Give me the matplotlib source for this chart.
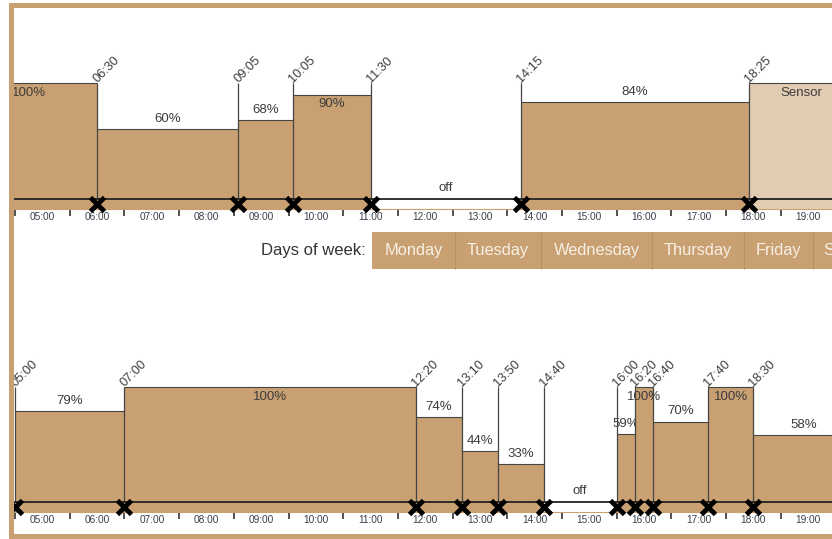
import matplotlib
matplotlib.use("Agg")
import matplotlib.pyplot as plt
from matplotlib.patches import Rectangle

plt.rcParams['font.family'] = ['Liberation Sans', 'DejaVu Sans']

# ---------------------------- DATA ----------------------------------------#
# upper day schedule: change times, level in % (None = off), kind of block
top_times = ["04:00", "06:30", "09:05", "10:05", "11:30", "14:15", "18:25"]
top_end = "20:20"
top_values = [100, 60, 68, 90, None, 84, 100]
top_kinds = ["set", "set", "set", "set", "off", "set", "sensor"]

# lower day schedule
bottom_times = ["05:00", "07:00", "12:20", "13:10", "13:50", "14:40",
                "16:00", "16:20", "16:40", "17:40", "18:30"]
bottom_end = "20:20"
bottom_values = [79, 100, 74, 44, 33, None, 59, 100, 70, 100, 58]
bottom_kinds = ["set", "set", "set", "set", "set", "off",
                "set", "set", "set", "set", "set"]

hour_labels = ["05:00", "06:00", "07:00", "08:00", "09:00", "10:00", "11:00",
               "12:00", "13:00", "14:00", "15:00", "16:00", "17:00", "18:00", "19:00"]

days = ["Monday", "Tuesday", "Wednesday", "Thursday", "Friday", "Saturday"]

# ---------------------------- STYLE ---------------------------------------#
TAN = '#c9a072'
SENSOR = '#e2ccb1'
EDGE = '#454545'
TXT = '#3c3c3c'
W, H = 832, 539
PX_H = 54.7          # pixels per hour
LEFT = 14            # left edge of the timelines in px

fig = plt.figure(figsize=(W / 100, H / 100), dpi=100)


def to_h(s):
    h, m = s.split(":")
    return int(h) + int(m) / 60.0


def px_axes(left, top, right, bottom, z=1):
    ax = fig.add_axes([left / W, 1 - bottom / H, (right - left) / W, (bottom - top) / H])
    ax.set_zorder(z)
    ax.patch.set_visible(False)
    ax.axis('off')
    return ax


def drawSchedule(ax, times, end, values, kinds, top_px, bottom_px, base_px, full_px):
    scale = (base_px - full_px) / 100.0
    ax.set_xlim(5 - (15 - LEFT) / PX_H, 5 + (W - 15) / PX_H)
    ax.set_ylim(-(bottom_px - base_px) / scale, (base_px - top_px) / scale)
    strip = 9.5 / scale

    starts = [to_h(t) for t in times]
    ends = starts[1:] + [to_h(end)]

    for i, (s, e, v, k) in enumerate(zip(starts, ends, values, kinds)):
        z = 2 + 0.01 * i
        if k == "off":
            ax.text((s + e) / 2, 11 / scale, "off", ha='center', va='center',
                    fontsize=9.5, color=TXT, zorder=z, clip_on=True)
            continue
        color = SENSOR if k == "sensor" else TAN
        ax.add_patch(Rectangle((s, -strip), e - s, v + strip, facecolor=color,
                               edgecolor='none', zorder=z))
        ax.hlines(v, s, e, color=EDGE, lw=0.8, zorder=z + 0.001)
        label = "Sensor" if k == "sensor" else "%d%%" % v
        if v > 85:
            ax.text((s + e) / 2, v - 9.5 / scale, label, ha='center', va='center',
                    fontsize=9.5, color=TXT, zorder=4, clip_on=True)
        else:
            ax.text((s + e) / 2, v + 10 / scale, label, ha='center', va='center',
                    fontsize=9.5, color=TXT, zorder=z + 0.005, clip_on=True)

    # axis line and thin band under the blocks
    ax.axhline(-strip, color=TAN, lw=0.8, zorder=1.5)
    ax.axhline(0, color='#222222', lw=1.3, zorder=3.1)

    # change points
    ax.vlines(starts, 0, 100, color=EDGE, lw=0.9, zorder=3)
    ax.plot(starts, [-4.5 / scale] * len(starts), 'x', ms=10.5, mew=3.5,
            color='black', zorder=3.5, clip_on=True)
    for s, t in zip(starts, times):
        ax.text(s, 100, t, rotation=45, rotation_mode='anchor', ha='left',
                va='baseline', fontsize=9.2, color=TXT, zorder=4, clip_on=True)

    # hour ticks, label centred inside each hour
    hours = [to_h(t) for t in hour_labels]
    ax.vlines(hours, -(9.5 + 1) / scale, -(9.5 + 7.5) / scale, color='#333333',
              lw=1.2, zorder=3)
    for h, t in zip(hours, hour_labels):
        ax.text(h + 0.5, -17.8 / scale, t, ha='center', va='center',
                fontsize=7.3, color='#3a3f4a', clip_on=True)


# ---------------------------- FRAME AND BUTTONS ---------------------------#
ui = px_axes(0, 0, W, H, z=0)
ui.set_xlim(0, W)
ui.set_ylim(H, 0)
ui.add_patch(Rectangle((9, 3), 5, H, facecolor=TAN, edgecolor='none'))
ui.add_patch(Rectangle((9, 3), W, 5, facecolor=TAN, edgecolor='none'))
ui.add_patch(Rectangle((9, 534), W, 6, facecolor=TAN, edgecolor='none'))

ui.text(366, 250, "Days of week:", ha='right', va='center', fontsize=12, color='#333333')
btn_edges = [372, 455, 541, 652, 744, 813, 900]
for i, d in enumerate(days):
    x0, x1 = btn_edges[i], btn_edges[i + 1]
    ui.add_patch(Rectangle((x0, 232), x1 - x0, 37, facecolor=TAN, edgecolor='none'))
    if i > 0:
        ui.vlines(x0, 232, 269, color='#b89060', lw=0.8)
    ui.text((x0 + x1) / 2, 250.5, d, ha='center', va='center', fontsize=11.8,
            color='#f7f0e6', clip_on=True)

# ---------------------------- SCHEDULES -----------------------------------#
ax_top = px_axes(LEFT, 8, W, 229)
drawSchedule(ax_top, top_times, top_end, top_values, top_kinds,
             top_px=8, bottom_px=229, base_px=199, full_px=83)

ax_bot = px_axes(LEFT, 285, W, 533)
drawSchedule(ax_bot, bottom_times, bottom_end, bottom_values, bottom_kinds,
             top_px=285, bottom_px=533, base_px=502, full_px=387)

fig.savefig("out.png", dpi=100)
